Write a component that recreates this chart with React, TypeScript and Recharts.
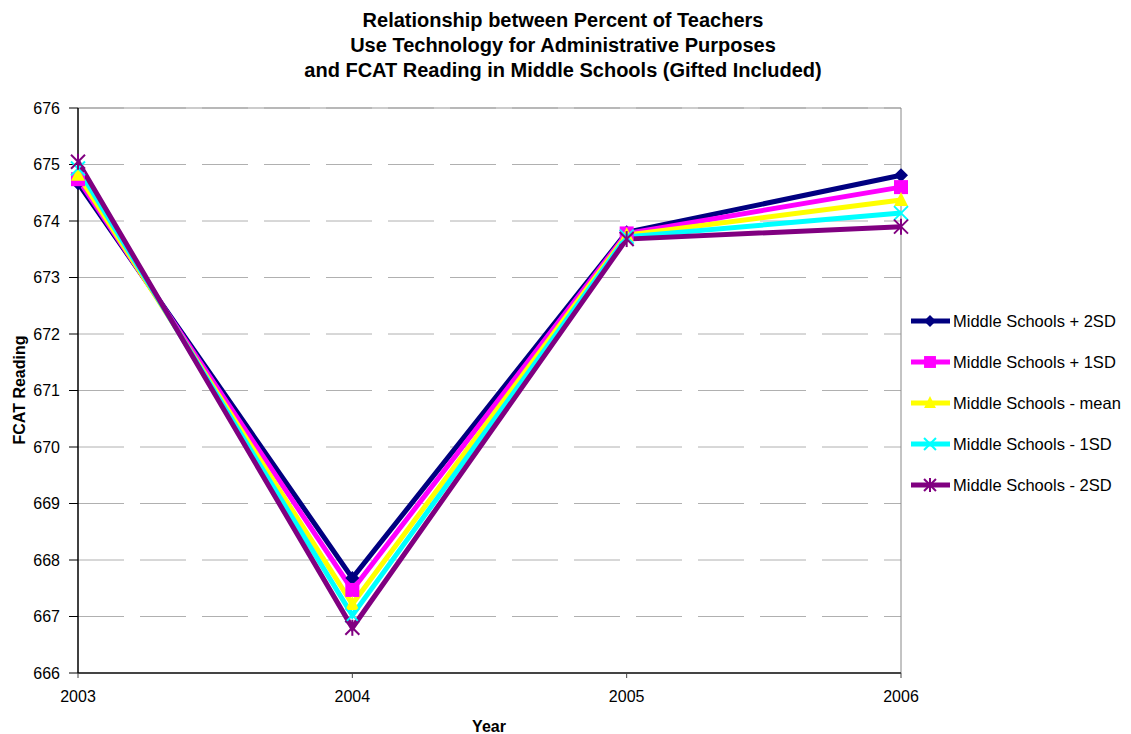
import React from "react";
import { LineChart, Line, XAxis, YAxis, CartesianGrid, ReferenceLine } from "recharts";

const years = [2003, 2004, 2005, 2006];
const plus2SD = [674.67, 667.68, 673.8, 674.81];
const plus1SD = [674.74, 667.47, 673.78, 674.6];
const meanVals = [674.82, 667.22, 673.75, 674.37];
const minus1SD = [674.93, 667.02, 673.72, 674.14];
const minus2SD = [675.05, 666.8, 673.68, 673.9];
const yTicks = [666, 667, 668, 669, 670, 671, 672, 673, 674, 675, 676];
const titleLines = [
  "Relationship between Percent of Teachers",
  "Use Technology for Administrative Purposes",
  "and FCAT Reading in Middle Schools (Gifted Included)",
];
const xTitle = "Year";
const yTitle = "FCAT Reading";

const seriesNames = [
  "Middle Schools + 2SD",
  "Middle Schools + 1SD",
  "Middle Schools - mean",
  "Middle Schools - 1SD",
  "Middle Schools - 2SD",
];
const seriesValues = [plus2SD, plus1SD, meanVals, minus1SD, minus2SD];
const seriesColors = ["#000080", "#FF00FF", "#FFFF00", "#00FFFF", "#800080"];
const seriesShapes = ["diamond", "square", "triangle", "x", "star"];

const data = years.map((y, i) => {
  const row: any = { year: y };
  seriesValues.forEach((vals, s) => {
    row["s" + s] = vals[i];
  });
  return row;
});

const FONT = "'Liberation Sans', Arial, sans-serif";

function Marker({ cx, cy, shape, color, k = 1 }: any) {
  if (cx == null || cy == null) return null;
  const r = 7 * k;
  switch (shape) {
    case "diamond":
      return <polygon points={`${cx},${cy - r} ${cx + r},${cy} ${cx},${cy + r} ${cx - r},${cy}`} fill={color} />;
    case "square":
      return <rect x={cx - r} y={cy - r} width={2 * r} height={2 * r} fill={color} />;
    case "triangle":
      return <polygon points={`${cx},${cy - r - 1} ${cx + r},${cy + r - 1} ${cx - r},${cy + r - 1}`} fill={color} />;
    case "x":
      return (
        <g stroke={color} strokeWidth={2}>
          <line x1={cx - r} y1={cy - r} x2={cx + r} y2={cy + r} />
          <line x1={cx - r} y1={cy + r} x2={cx + r} y2={cy - r} />
        </g>
      );
    case "star":
      return (
        <g stroke={color} strokeWidth={2}>
          <line x1={cx - r} y1={cy - r} x2={cx + r} y2={cy + r} />
          <line x1={cx - r} y1={cy + r} x2={cx + r} y2={cy - r} />
          <line x1={cx} y1={cy - r - 1} x2={cx} y2={cy + r + 1} />
        </g>
      );
  }
  return null;
}

function App() {
  return (
    <div style={{ position: "absolute", left: 0, top: 0, width: 1131, height: 734, background: "#fff" }}>
      <LineChart
        width={1131}
        height={734}
        data={data}
        margin={{ top: 108, right: 230, left: 38, bottom: 31 }}
        style={{ position: "absolute", left: 0, top: 0 }}
      >
        <CartesianGrid horizontal={true} vertical={false} stroke="#b0b0b0" strokeDasharray="46 16" />
        <ReferenceLine y={676} stroke="#999" strokeWidth={1} />
        <ReferenceLine x={2006} stroke="#888" strokeWidth={1} />
        <XAxis
          dataKey="year"
          type="number"
          domain={[2003, 2006]}
          ticks={years}
          height={30}
          stroke="#444"
          strokeWidth={2}
          tickSize={5}
          tick={{ fill: "#000", fontSize: 16, fontFamily: FONT }}
          tickLine={{ stroke: "#444", strokeWidth: 1 }}
          tickMargin={13}
        />
        <YAxis
          type="number"
          domain={[666, 676]}
          ticks={yTicks}
          width={40}
          stroke="#000"
          strokeWidth={1.5}
          tickSize={9}
          tickMargin={9}
          tick={{ fill: "#000", fontSize: 16, fontFamily: FONT }}
          tickLine={{ stroke: "#000", strokeWidth: 1 }}
          interval={0}
        />
        {seriesNames.map((name, s) => (
          <Line
            key={name}
            name={name}
            dataKey={"s" + s}
            stroke={seriesColors[s]}
            strokeWidth={5}
            isAnimationActive={false}
            dot={(p: any) => <Marker key={p.index} cx={p.cx} cy={p.cy} shape={seriesShapes[s]} color={seriesColors[s]} />}
            activeDot={false}
          />
        ))}
      </LineChart>
      <svg style={{ position: "absolute", left: 0, top: 0 }} width={1131} height={734} pointerEvents="none">
        {titleLines.map((t, i) => (
          <text key={t} x={563} y={27 + i * 25} textAnchor="middle" fontFamily={FONT} fontWeight="bold" fontSize={20} fill="#000">
            {t}
          </text>
        ))}
        <text x={489} y={732} textAnchor="middle" fontFamily={FONT} fontWeight="bold" fontSize={16} fill="#000">
          {xTitle}
        </text>
        <text
          transform="translate(25,390) rotate(-90)"
          textAnchor="middle"
          fontFamily={FONT}
          fontWeight="bold"
          fontSize={16}
          fill="#000"
        >
          {yTitle}
        </text>
        {seriesNames.map((name, s) => {
          const y = 321 + s * 41;
          return (
            <g key={name}>
              <line x1={911} x2={950} y1={y} y2={y} stroke={seriesColors[s]} strokeWidth={5} />
              <Marker cx={930} cy={y} shape={seriesShapes[s]} color={seriesColors[s]} k={0.85} />
              <text x={953} y={y + 6} fontFamily={FONT} fontSize={16.5} fill="#000">
                {name}
              </text>
            </g>
          );
        })}
      </svg>
    </div>
  );
}

export default App;
